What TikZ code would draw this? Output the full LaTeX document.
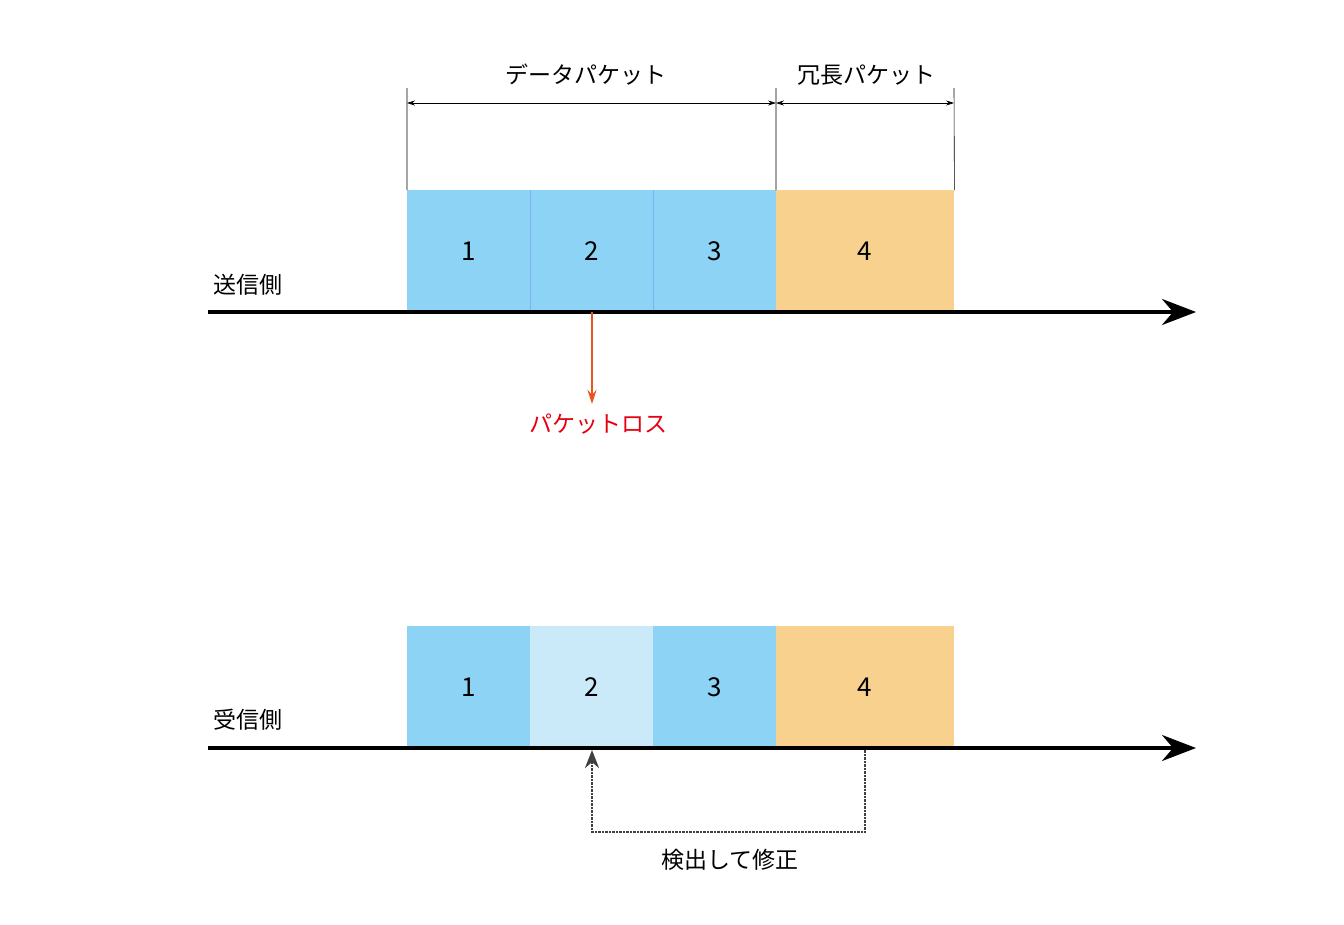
\documentclass[tikz,border=0pt]{standalone}
\usepackage{fontspec}
\setmainfont{Noto Sans CJK JP}
\usetikzlibrary{arrows.meta}
\definecolor{blu}{HTML}{8DD3F5}
\definecolor{lblu}{HTML}{CBEAF9}
\definecolor{org}{HTML}{F8D18E}
\definecolor{lossarrow}{HTML}{E8561E}
\definecolor{lossred}{HTML}{E60012}
\begin{document}
\begin{tikzpicture}[x=1pt,y=-1pt,
  box/.style={draw=none,minimum height=122pt,anchor=north west,inner sep=0pt,font=\fontsize{26}{30}\selectfont},
  lbl/.style={font=\fontsize{23}{27}\selectfont},
  axis/.style={line width=3.5pt,-{Stealth[length=34pt,width=26pt]}},
  dim/.style={line width=0.6pt,{Stealth[length=8pt,width=5pt]}-{Stealth[length=8pt,width=5pt]}}]
\useasboundingbox (0,0) rectangle (1344,924);
% top boxes
\node[box,fill=blu,minimum width=123pt] (t1) at (407,190) {1};
\node[box,fill=blu,minimum width=123pt] (t2) at (530,190) {2};
\node[box,fill=blu,minimum width=123pt] (t3) at (653,190) {3};
\node[box,fill=org,minimum width=178pt] (t4) at (776,190) {4};
\draw[blu!80!blue!90,line width=0.5pt] (t2.north west)--(t2.south west) (t3.north west)--(t3.south west);
% bottom boxes
\node[box,fill=blu,minimum width=123pt] (b1) at (407,626) {1};
\node[box,fill=lblu,minimum width=123pt] (b2) at (530,626) {2};
\node[box,fill=blu,minimum width=123pt] (b3) at (653,626) {3};
\node[box,fill=org,minimum width=178pt] (b4) at (776,626) {4};
% axes
\coordinate (as) at (208,312); \coordinate (ae) at (1196,312);
\coordinate (bs) at (208,748); \coordinate (be) at (1196,748);
\draw[axis] (as)--(ae);
\draw[axis] (bs)--(be);
\node[lbl] (snd) at (248,285) {送信側};
\node[lbl] (rcv) at (248,720) {受信側};
% dimension
\coordinate (d1) at (407,88); \coordinate (d2) at (776,88); \coordinate (d3) at (954,88);
\draw[line width=0.6pt] (d1)--(t1.north west) (d2)--(t4.north west) (d3)--(t4.north east);
\draw[dim] (407,103)--(776,103);
\draw[dim] (776,103)--(954,103);
\node[lbl] (dl) at (586,75) {データパケット};
\node[lbl] (rl) at (866,75) {冗長パケット};
% loss
\coordinate (l0) at (592,312);
\node[lbl,text=lossred] (loss) at (598,424) {パケットロス};
\draw[lossarrow,line width=1.5pt,-{Stealth[length=14pt,width=9pt]}] (l0)--(592,404);
% correction
\coordinate (c0) at (865,750); \coordinate (c1) at (592,750);
\draw[black!75,line width=2.5pt,densely dotted,-{Stealth[length=18pt,width=14pt]}] (c0)--(865,832)--(592,832)--(c1);
\node[lbl] (fix) at (730,860) {検出して修正};
\end{tikzpicture}
\end{document}
